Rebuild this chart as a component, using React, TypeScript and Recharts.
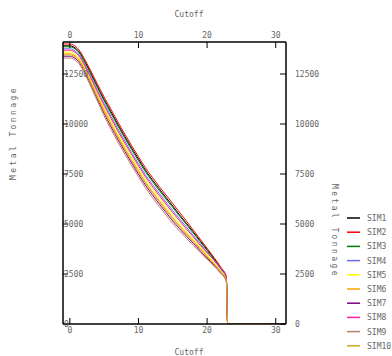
import React from 'react';
import { LineChart, Line, XAxis, YAxis } from 'recharts';

const cutoff = [-1, 0, 0.5, 1, 1.5, 2, 2.5, 3, 4, 5, 6, 7, 8, 9, 10, 11, 12, 13, 14, 15, 16, 17, 18, 19, 20, 21, 22, 22.8, 23, 31.5];

const sim1 = [13910, 13910, 13860, 13740, 13540, 13240, 12930, 12590, 11900, 11230, 10610, 9980, 9380, 8800, 8250, 7700, 7220, 6770, 6330, 5900, 5450, 5030, 4600, 4160, 3720, 3280, 2800, 2330, 0, 0];
const sim2 = [14000, 14000, 13950, 13830, 13630, 13330, 13020, 12690, 12010, 11350, 10730, 10100, 9500, 8920, 8360, 7820, 7340, 6890, 6450, 6020, 5580, 5140, 4690, 4240, 3790, 3330, 2840, 2360, 0, 0];
const sim3 = [13860, 13860, 13810, 13690, 13490, 13190, 12870, 12530, 11840, 11160, 10530, 9900, 9300, 8720, 8160, 7620, 7140, 6690, 6250, 5820, 5390, 4970, 4540, 4110, 3680, 3240, 2780, 2320, 0, 0];
const sim4 = [13760, 13760, 13710, 13590, 13390, 13090, 12760, 12420, 11710, 11020, 10380, 9750, 9150, 8570, 8010, 7470, 6990, 6540, 6100, 5670, 5250, 4840, 4420, 4010, 3590, 3180, 2730, 2280, 0, 0];
const sim5 = [13600, 13600, 13550, 13430, 13230, 12930, 12590, 12240, 11520, 10810, 10160, 9530, 8930, 8350, 7790, 7250, 6770, 6320, 5880, 5450, 5040, 4650, 4250, 3860, 3470, 3080, 2660, 2230, 0, 0];
const sim6 = [13510, 13510, 13460, 13340, 13140, 12840, 12500, 12140, 11410, 10690, 10030, 9400, 8800, 8220, 7660, 7120, 6640, 6190, 5750, 5320, 4920, 4540, 4160, 3780, 3400, 3020, 2620, 2210, 0, 0];
const sim7 = [13390, 13390, 13340, 13220, 13020, 12720, 12370, 12010, 11260, 10530, 9860, 9230, 8630, 8050, 7490, 6950, 6470, 6020, 5580, 5150, 4760, 4390, 4030, 3660, 3300, 2950, 2560, 2170, 0, 0];
const sim8 = [13690, 13690, 13640, 13520, 13320, 13020, 12690, 12340, 11620, 10930, 10280, 9650, 9050, 8470, 7910, 7370, 6890, 6440, 6000, 5570, 5160, 4750, 4350, 3940, 3560, 3200, 2800, 2380, 0, 0];
const sim9 = [13300, 13300, 13250, 13130, 12930, 12630, 12280, 11910, 11150, 10410, 9730, 9100, 8500, 7920, 7360, 6820, 6340, 5890, 5450, 5020, 4640, 4280, 3930, 3580, 3230, 2890, 2520, 2140, 0, 0];
const sim10 = [13460, 13460, 13410, 13290, 13090, 12790, 12450, 12090, 11340, 10620, 9960, 9330, 8730, 8150, 7590, 7050, 6570, 6120, 5680, 5250, 4850, 4470, 4100, 3730, 3360, 2990, 2590, 2190, 0, 0];

const seriesNames = ['SIM1', 'SIM2', 'SIM3', 'SIM4', 'SIM5', 'SIM6', 'SIM7', 'SIM8', 'SIM9', 'SIM10'];
const seriesValues = [sim1, sim2, sim3, sim4, sim5, sim6, sim7, sim8, sim9, sim10];
const COLORS = ['#000000', '#ff0000', '#008000', '#6a6aff', '#ffff00', '#ffa500', '#800080', '#ff1f9a', '#bc8070', '#daa520'];

const xTicks = [0, 10, 20, 30];
const yTicks = [0, 2500, 5000, 7500, 10000, 12500];

const data = cutoff.map((c, i) => {
  const row: { [key: string]: number } = { cutoff: c };
  seriesNames.forEach((name, s) => {
    row[name] = seriesValues[s][i];
  });
  return row;
});

const FONT = '"DejaVu Sans Mono", monospace';
const tickStyle = { fontSize: 8, fill: '#666', fontFamily: FONT };
const axisLine = { stroke: '#000', strokeWidth: 1.5 };

export default function App() {
  return (
    <div style={{ position: 'absolute', left: 0, top: 0, width: 392, height: 356, background: '#fff', overflow: 'hidden' }}>
      <LineChart width={392} height={356} data={data} margin={{ top: 41, right: 105, bottom: 31, left: 62 }}>
        <XAxis
          xAxisId="b"
          dataKey="cutoff"
          type="number"
          domain={[-1, 31.5]}
          allowDataOverflow
          ticks={xTicks}
          height={1}
          orientation="bottom"
          axisLine={axisLine}
          tickLine={{ stroke: '#000' }}
          tickSize={-6}
          tickMargin={9}
          tick={tickStyle}
        />
        <XAxis
          xAxisId="t"
          dataKey="cutoff"
          type="number"
          domain={[-1, 31.5]}
          allowDataOverflow
          ticks={xTicks}
          height={1}
          orientation="top"
          axisLine={axisLine}
          tickLine={{ stroke: '#000' }}
          tickSize={-6}
          tickMargin={10}
          tick={tickStyle}
        />
        <YAxis
          yAxisId="l"
          type="number"
          domain={[0, 14100]}
          allowDataOverflow
          ticks={yTicks}
          width={1}
          orientation="left"
          axisLine={axisLine}
          tickLine={{ stroke: '#000' }}
          tickSize={-5}
          tickMargin={4}
          tick={{ ...tickStyle, textAnchor: 'start' }}
        />
        <YAxis
          yAxisId="r"
          type="number"
          domain={[0, 14100]}
          allowDataOverflow
          ticks={yTicks}
          width={1}
          orientation="right"
          axisLine={axisLine}
          tickLine={{ stroke: '#000' }}
          tickSize={-6}
          tickMargin={15}
          tick={{ ...tickStyle, textAnchor: 'start' }}
        />
        {seriesNames.map((name, i) => (
          <Line
            key={name}
            xAxisId="b"
            yAxisId="l"
            dataKey={name}
            type="monotone"
            stroke={COLORS[i]}
            strokeWidth={1}
            dot={false}
            isAnimationActive={false}
          />
        ))}
      </LineChart>
      <svg width={392} height={356} style={{ position: 'absolute', left: 0, top: 0, pointerEvents: 'none' }}>
        <g fontFamily={FONT} fontSize={8} fill="#666">
          <text x={189} y={17} textAnchor="middle">Cutoff</text>
          <text x={189} y={355} textAnchor="middle">Cutoff</text>
          <text x={16} y={133} textAnchor="middle" letterSpacing={2.4} transform="rotate(-90 16 133)">Metal Tonnage</text>
          <text x={332} y={231} textAnchor="middle" letterSpacing={2.4} transform="rotate(90 332 231)">Metal Tonnage</text>
          {seriesNames.map((name, i) => (
            <g key={name}>
              <line x1={347} x2={360} y1={218 + i * 14.2} y2={218 + i * 14.2} stroke={COLORS[i]} strokeWidth={1.5} />
              <text x={367} y={221 + i * 14.2}>{name}</text>
            </g>
          ))}
        </g>
      </svg>
    </div>
  );
}
